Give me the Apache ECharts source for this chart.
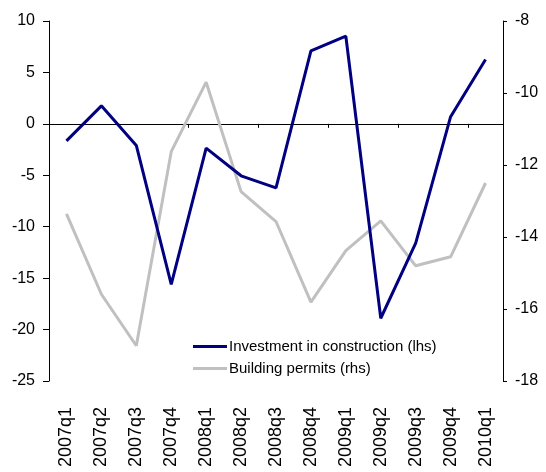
<!DOCTYPE html>
<html>
<head>
<meta charset="utf-8">
<script src="https://cdn.jsdelivr.net/npm/echarts@6/dist/echarts.min.js"></script>
<style>
  html, body { margin: 0; padding: 0; background: #fff; }
  #chart { width: 546px; height: 472px; }
</style>
</head>
<body>
<div id="chart"></div>
<script>
// Quarterly categories
var quarters = ['2007q1','2007q2','2007q3','2007q4','2008q1','2008q2','2008q3','2008q4',
                '2009q1','2009q2','2009q3','2009q4','2010q1'];

// Investment in construction, left-hand scale
var investment = [-1.65, 1.75, -2.1, -15.6, -2.36, -5.05, -6.22, 7.09, 8.52, -18.9, -11.6, 0.7, 6.26];

// Building permits, right-hand scale
var permits = [-13.36, -15.59, -17.02, -11.63, -9.70, -12.74, -13.57, -15.81, -14.38, -13.55, -14.8, -14.55, -12.5];

var FONT = 'Liberation Sans, Arial, sans-serif';

var chart = echarts.init(document.getElementById('chart'), null, { renderer: 'canvas' });

chart.setOption({
  animation: false,
  backgroundColor: '#ffffff',
  grid: { left: 49, right: 43, top: 21, bottom: 91, containLabel: false },
  legend: {
    orient: 'vertical',
    left: 188,
    top: 334,
    itemWidth: 34,
    itemHeight: 3,
    itemGap: 7,
    icon: 'rect',
    textStyle: { fontFamily: FONT, fontSize: 15, color: '#000', padding: [0, 0, 0, -3] },
    data: ['Investment in construction (lhs)', 'Building permits (rhs)']
  },
  xAxis: [
    {
      // axis line crossing the left scale at zero
      type: 'category',
      data: quarters,
      boundaryGap: true,
      axisLine: { onZero: true, onZeroAxisIndex: 0, lineStyle: { color: '#000', width: 1 } },
      axisTick: { show: true, length: 4, lineStyle: { color: '#000' } },
      axisLabel: { show: false },
      splitLine: { show: false }
    },
    {
      // category labels along the bottom
      type: 'category',
      data: quarters,
      position: 'bottom',
      boundaryGap: true,
      axisLine: { show: false },
      axisTick: { show: false },
      axisLabel: {
        rotate: 90,
        margin: 26,
        fontFamily: FONT,
        fontSize: 18,
        color: '#000',
        interval: 0
      },
      splitLine: { show: false }
    }
  ],
  yAxis: [
    {
      type: 'value',
      min: -25,
      max: 10,
      interval: 5,
      position: 'left',
      axisLine: { show: true, onZero: false, lineStyle: { color: '#000', width: 1 } },
      axisTick: { show: true, length: 6, lineStyle: { color: '#000' } },
      axisLabel: { fontFamily: FONT, fontSize: 16, color: '#000', margin: 14 },
      splitLine: { show: false }
    },
    {
      type: 'value',
      min: -18,
      max: -8,
      interval: 2,
      position: 'right',
      axisLine: { show: true, onZero: false, lineStyle: { color: '#000', width: 1 } },
      axisTick: { show: true, length: 4, lineStyle: { color: '#000' } },
      axisLabel: { fontFamily: FONT, fontSize: 16, color: '#000', margin: 12 },
      splitLine: { show: false }
    }
  ],
  series: [
    {
      name: 'Investment in construction (lhs)',
      type: 'line',
      xAxisIndex: 0,
      yAxisIndex: 0,
      data: investment,
      showSymbol: false,
      symbol: 'none',
      z: 3,
      lineStyle: { color: '#000080', width: 3 },
      itemStyle: { color: '#000080' }
    },
    {
      name: 'Building permits (rhs)',
      type: 'line',
      xAxisIndex: 0,
      yAxisIndex: 1,
      data: permits,
      showSymbol: false,
      symbol: 'none',
      z: 2,
      lineStyle: { color: '#c0c0c0', width: 3 },
      itemStyle: { color: '#c0c0c0' }
    }
  ]
});
</script>
</body>
</html>
